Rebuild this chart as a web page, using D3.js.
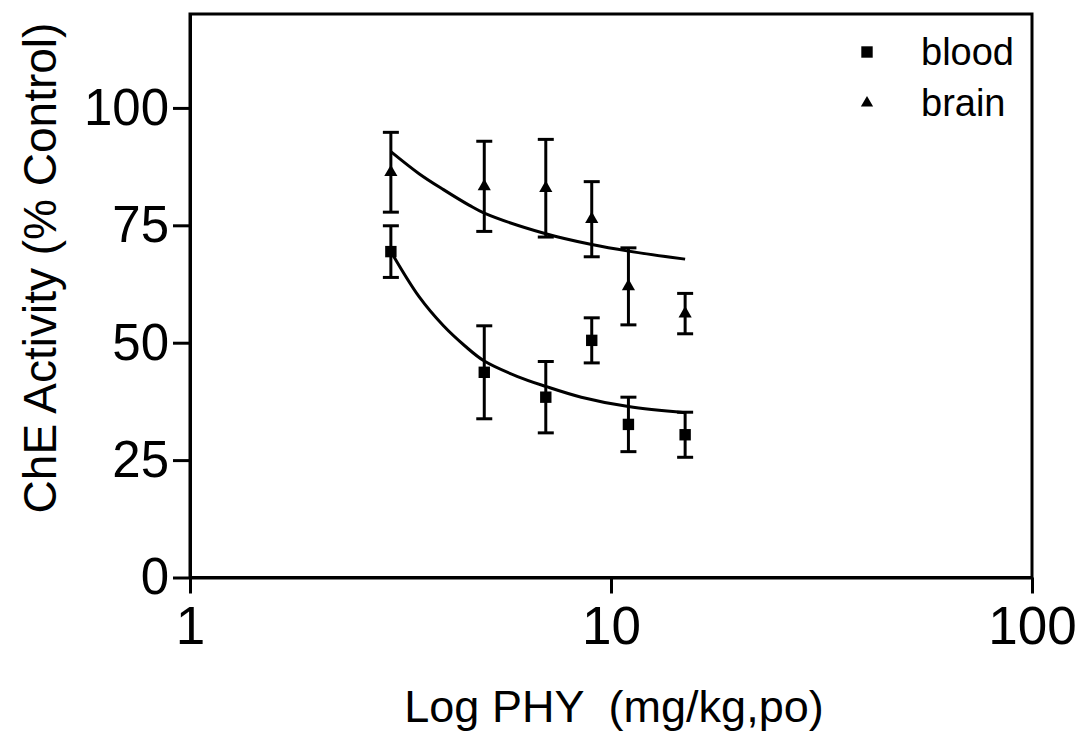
<!DOCTYPE html>
<html>
<head>
<meta charset="utf-8">
<script src="https://cdn.jsdelivr.net/npm/d3@7"></script>
<style>
  body { margin: 0; background: #fff; }
  svg { display: block; font-family: "Liberation Sans", Arial, sans-serif; }
</style>
</head>
<body>
<div id="chart"></div>
<script>
// doses (mg/kg, po)
const doses = [3, 5, 7, 9, 11, 15];
// ChE activity, % control, mean and error
const bloodMean = [69.4, 43.7, 38.4, 50.5, 32.6, 30.4];
const bloodErr  = [5.5, 9.9, 7.6, 4.8, 5.8, 4.8];
const brainMean = [86.3, 83.3, 82.9, 76.3, 62.0, 56.2];
const brainErr  = [8.5, 9.6, 10.4, 8.0, 8.2, 4.3];
// fitted curves
const bloodFitDose = [3, 3.5, 4, 4.5, 5, 6, 7, 8.5, 11, 15];
const bloodFitVal  = [69.4, 59.8, 53.6, 49.3, 46.1, 42.8, 40.7, 38.4, 36.4, 35.1];
const brainFitDose = [3, 3.5, 4, 4.6, 5, 7, 9, 11, 15];
const brainFitVal  = [90.7, 86.0, 82.6, 79.3, 77.6, 73.2, 70.9, 69.5, 67.8];
const xTicks = [1, 10, 100];
const yTicks = [0, 25, 50, 75, 100];

const width = 1081, height = 734;
const mLeft = 190, mRight = 1032, mTop = 14, mBottom = 577.5;

const svg = d3.select("#chart").append("svg")
  .attr("width", width)
  .attr("height", height);

const x = d3.scaleLog().domain([1, 100]).range([mLeft, mRight]);
const y = d3.scaleLinear().domain([0, 120]).range([mBottom, mTop]);

// frame
svg.append("rect")
  .attr("x", mLeft).attr("y", mTop)
  .attr("width", mRight - mLeft).attr("height", mBottom - mTop)
  .attr("fill", "none").attr("stroke", "#000").attr("stroke-width", 3);

// axes
const xAxis = svg.append("g")
  .attr("transform", `translate(0,${mBottom})`)
  .call(d3.axisBottom(x).tickValues(xTicks).tickFormat(d3.format("d"))
    .tickSizeInner(16).tickSizeOuter(0).tickPadding(13));
const yAxis = svg.append("g")
  .attr("transform", `translate(${mLeft},0)`)
  .call(d3.axisLeft(y).tickValues(yTicks).tickSizeInner(17).tickSizeOuter(0).tickPadding(4));

[xAxis, yAxis].forEach(g => {
  g.select(".domain").attr("stroke-width", 3);
  g.selectAll(".tick line").attr("stroke-width", 3);
  g.selectAll(".tick text")
    .attr("font-family", "Liberation Sans, Arial, sans-serif")
    .attr("fill", "#000");
});
xAxis.selectAll(".tick text").attr("font-size", 53);
yAxis.selectAll(".tick text").attr("font-size", 51);

// axis titles
svg.append("text")
  .attr("transform", `translate(56,268) rotate(-90)`)
  .attr("text-anchor", "middle")
  .attr("font-size", 46)
  .text("ChE Activity (% Control)");

svg.append("text")
  .attr("x", 614).attr("y", 722)
  .attr("text-anchor", "middle")
  .attr("font-size", 45)
  .attr("xml:space", "preserve")
  .text("Log PHY  (mg/kg,po)");

// fit lines
const line = d3.line()
  .x(d => x(d[0]))
  .y(d => y(d[1]))
  .curve(d3.curveCatmullRom.alpha(0.5));

svg.append("path")
  .datum(d3.zip(bloodFitDose, bloodFitVal))
  .attr("d", line)
  .attr("fill", "none").attr("stroke", "#000").attr("stroke-width", 3);
svg.append("path")
  .datum(d3.zip(brainFitDose, brainFitVal))
  .attr("d", line)
  .attr("fill", "none").attr("stroke", "#000").attr("stroke-width", 3);

// error bars and markers
function drawSeries(means, errs, symbolType, size) {
  const data = doses.map((d, i) => ({ dose: d, mean: means[i], err: errs[i] }));
  const g = svg.append("g");
  const bars = g.selectAll("g.bar").data(data).enter().append("g");
  bars.append("line")
    .attr("x1", d => x(d.dose)).attr("x2", d => x(d.dose))
    .attr("y1", d => y(d.mean + d.err)).attr("y2", d => y(d.mean - d.err))
    .attr("stroke", "#000").attr("stroke-width", 3);
  [1, -1].forEach(s => {
    bars.append("line")
      .attr("x1", d => x(d.dose) - 8).attr("x2", d => x(d.dose) + 8)
      .attr("y1", d => y(d.mean + s * d.err)).attr("y2", d => y(d.mean + s * d.err))
      .attr("stroke", "#000").attr("stroke-width", 3);
  });
  bars.append("path")
    .attr("transform", d => `translate(${x(d.dose)},${y(d.mean)})`)
    .attr("d", d3.symbol().type(symbolType).size(size))
    .attr("fill", "#000");
}
drawSeries(bloodMean, bloodErr, d3.symbolSquare, 130);
drawSeries(brainMean, brainErr, d3.symbolTriangle, 75);

// legend
const legend = [
  { name: "blood", type: d3.symbolSquare, size: 130, y: 52 },
  { name: "brain", type: d3.symbolTriangle, size: 65, y: 103 }
];
const lg = svg.selectAll("g.legend").data(legend).enter().append("g");
lg.append("path")
  .attr("transform", d => `translate(867,${d.y})`)
  .attr("d", d => d3.symbol().type(d.type).size(d.size)())
  .attr("fill", "#000");
lg.append("text")
  .attr("x", 921).attr("y", d => d.y)
  .attr("dy", "0.35em")
  .attr("font-size", 38)
  .text(d => d.name);
</script>
</body>
</html>
